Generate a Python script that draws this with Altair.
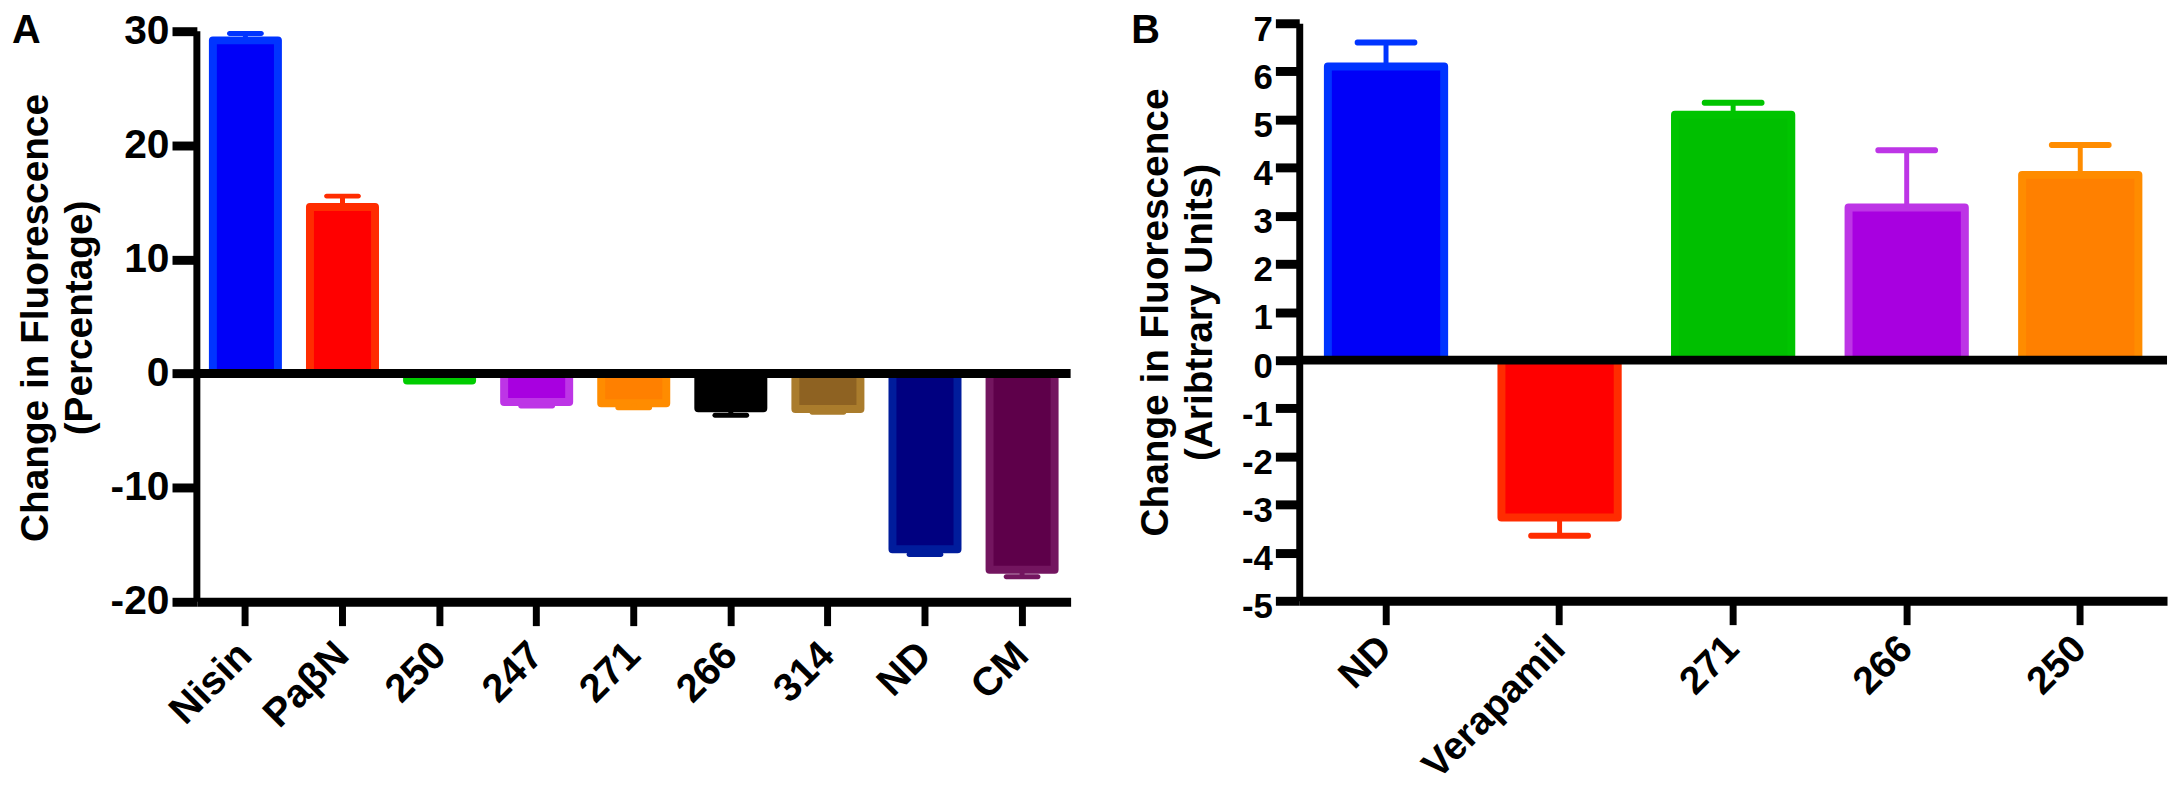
import altair as alt
import pandas as pd
import numpy as np

FONT = "Liberation Sans"

# ---- Panel A data ----
cats_a = ["Nisin", "PaβN", "250", "247", "271", "266", "314", "ND", "CM"]
vals_a = [29.2, 14.6, -0.6, -2.5, -2.6, -3.05, -3.1, -15.4, -17.2]
sems_a = [0.6, 0.95, 0.1, 0.35, 0.4, 0.6, 0.3, 0.45, 0.6]
fills_a = ["#0000F8", "#FF0000", "#00C400", "#A800E0", "#FF8000", "#000000", "#8E6222", "#000080", "#5E004A"]
strokes_a = ["#0034FF", "#FF2C00", "#00CC00", "#BD35E6", "#FF8C00", "#000000", "#AA7C2C", "#001C9C", "#73155F"]
yticks_a = [-20, -10, 0, 10, 20, 30]
title_a = ["Change in Fluorescence", "(Percentage)"]

# ---- Panel B data ----
cats_b = ["ND", "Verapamil", "271", "266", "250"]
vals_b = [6.1, -3.27, 5.1, 3.17, 3.85]
sems_b = [0.5, 0.38, 0.25, 1.19, 0.62]
fills_b = ["#0000F8", "#FF0000", "#00BF00", "#A800E0", "#FF8000"]
strokes_b = ["#0034FF", "#FF2C00", "#00C400", "#BD35E6", "#FF8C00"]
yticks_b = [-5, -4, -3, -2, -1, 0, 1, 2, 3, 4, 5, 6, 7]
title_b = ["Change in Fluorescence", "(Aribtrary Units)"]

LABEL_EXPR = "datum.value < 0 ? '-' + (-datum.value) : '' + datum.value"


def panel(cats, vals, sems, fills, strokes, ydomain, yticks, width, height,
          ytitle, tick_font, tick_size, ylab_off, title_pad, title_y,
          xlab_font, xlab_pad, xlab_off,
          cap_size, cap_thick, label, label_x, label_y, manual_axis):
    df = pd.DataFrame({"cat": cats, "val": vals, "sem": sems})
    df["err"] = df["val"] + np.sign(df["val"]) * df["sem"]

    x = alt.X(
        "cat:N", sort=cats, title=None,
        scale=alt.Scale(paddingInner=0.33, paddingOuter=0.165),
        axis=alt.Axis(
            labelAngle=-45, labelAlign="right", labelBaseline="top",
            labelFont=FONT, labelFontSize=xlab_font, labelFontWeight="bold",
            labelColor="black", labelPadding=xlab_pad, labelOffset=xlab_off,
            labelOverlap=False, labelLimit=0, domainColor="black", domainWidth=9,
            tickColor="black", tickWidth=7, tickSize=24, grid=False,
        ),
    )

    axis_kw = dict(
        values=yticks, domain=not manual_axis, domainColor="black", domainWidth=7,
        tickColor="black", tickWidth=9, tickSize=tick_size, grid=False,
        labelFont=FONT, labelFontSize=tick_font, labelFontWeight="bold",
        labelColor="black", labelPadding=3, labelExpr=LABEL_EXPR, labelOffset=ylab_off,
        titleFont=FONT, titleFontSize=39, titleFontWeight="bold",
        titleColor="black", titleLineHeight=44, titlePadding=title_pad,
    )
    if title_y is not None:
        axis_kw["titleY"] = title_y

    def Y(field):
        return alt.Y(
            field, title=ytitle,
            scale=alt.Scale(domain=ydomain, nice=False, zero=False),
            axis=alt.Axis(**axis_kw),
        )

    base = alt.Chart(df)
    bars = base.mark_bar(strokeWidth=8, strokeJoin="round").encode(
        x=x, y=Y("val:Q"), y2=alt.datum(0),
        fill=alt.Fill("cat:N", scale=alt.Scale(domain=cats, range=fills), legend=None),
        stroke=alt.Stroke("cat:N", scale=alt.Scale(domain=cats, range=strokes), legend=None),
    )
    stems = base.mark_rule(strokeWidth=5).encode(
        x=x, y=Y("val:Q"), y2="err:Q",
        stroke=alt.Stroke("cat:N", scale=alt.Scale(domain=cats, range=strokes), legend=None),
    )
    caps = base.mark_tick(thickness=cap_thick, size=cap_size, cornerRadius=2.5, opacity=1).encode(
        x=x, y=Y("err:Q"),
        color=alt.Color("cat:N", scale=alt.Scale(domain=cats, range=strokes), legend=None),
    )
    zero = alt.Chart(pd.DataFrame({"z": [0]})).mark_rule(strokeWidth=9, color="black").encode(
        y=Y("z:Q")
    )
    layers = [bars, stems, caps, zero]
    if manual_axis:
        axline = alt.Chart(pd.DataFrame({"lo": [yticks[0]], "hi": [yticks[-1]]})).mark_rule(
            strokeWidth=7, color="black"
        ).encode(x=alt.value(0), y=Y("lo:Q"), y2="hi:Q")
        layers.append(axline)
    txt = alt.Chart(pd.DataFrame({"t": [label]})).mark_text(
        font=FONT, fontSize=40, fontWeight="bold", align="left", baseline="top", color="black"
    ).encode(text="t:N", x=alt.value(label_x), y=alt.value(label_y))
    layers.append(txt)
    return alt.layer(*layers).properties(width=width, height=height)


chart_a = panel(cats_a, vals_a, sems_a, fills_a, strokes_a, [-20, 30.7], yticks_a, 879, 582,
                title_a, 41, 25, 0, 11, 296, 40, 9, -14, 37, 5, "A", -186, -12, True)
chart_b = panel(cats_b, vals_b, sems_b, fills_b, strokes_b, [-5, 7], yticks_b, 873, 581,
                title_b, 35, 24, 6, 22, None, 39, 4, -14, 63, 6, "B", -169, -12, False)

chart = alt.hconcat(chart_a, chart_b, spacing=230, bounds="flush").resolve_scale(
    x="independent", y="independent", fill="independent", stroke="independent", color="independent"
).properties(
    padding={"left": 4, "top": 0, "right": 0, "bottom": 0}, background="white"
).configure_view(stroke=None)

chart.save("out.html", embed_options={"renderer": "svg", "actions": False})
